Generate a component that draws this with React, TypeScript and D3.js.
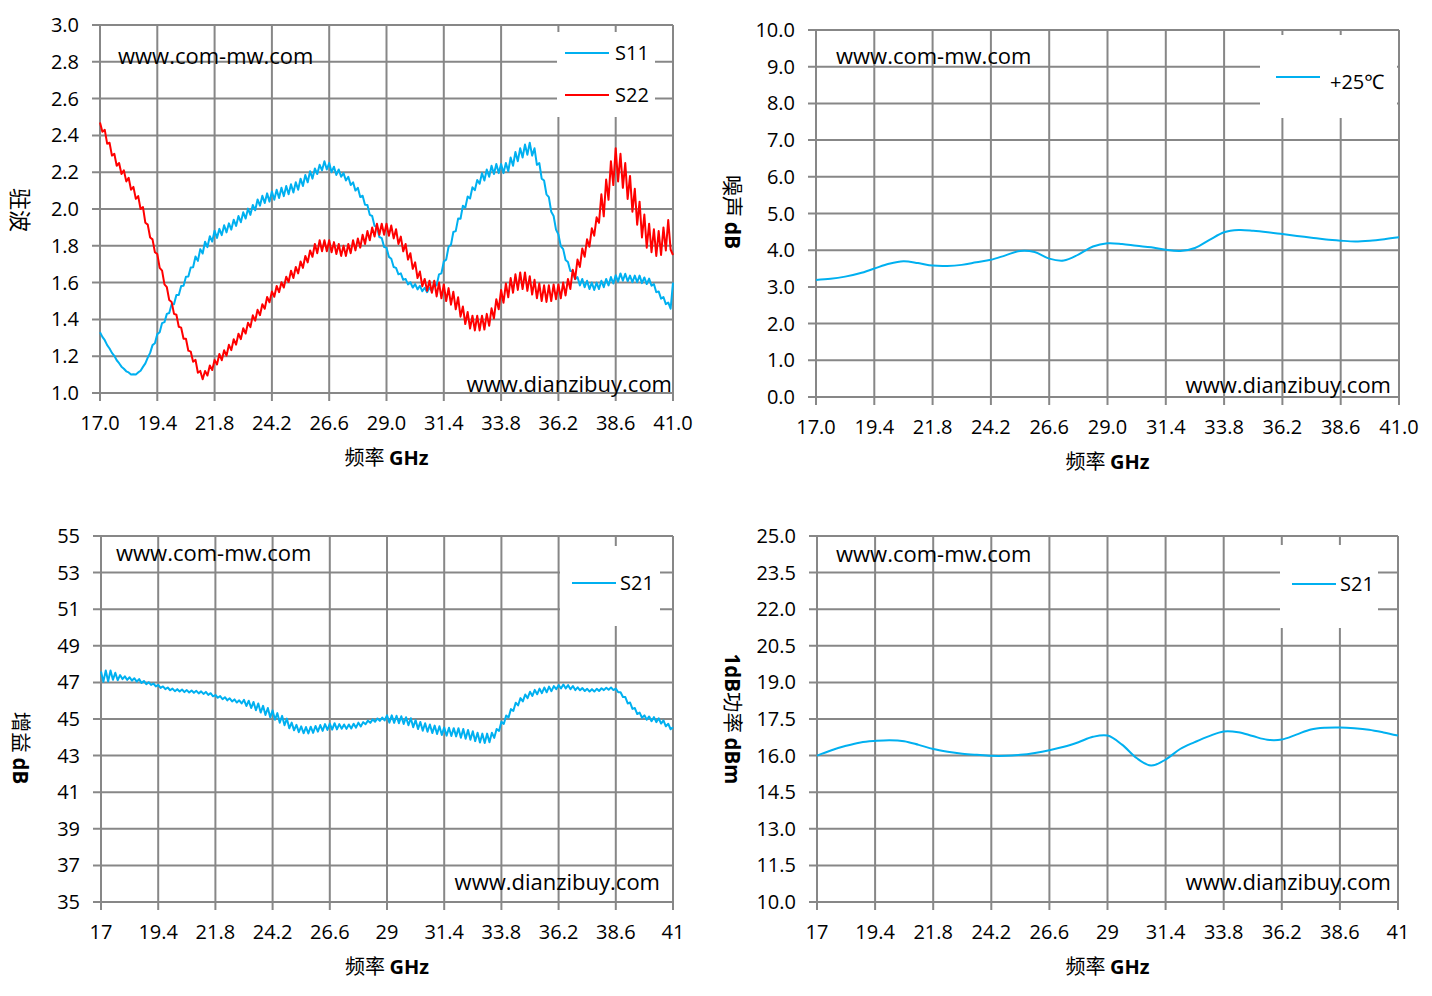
import * as d3 from "d3";

const FONT = "'Open Sans', 'Noto Sans', sans-serif";
const CJK = "'Noto Sans CJK SC', sans-serif";
const GRID = "#878787";
const BLUE = "#00B0F0";
const RED = "#FF0000";

// sweep points
const FREQ_FINE = d3.range(241).map((i) => +(17 + i * 0.1).toFixed(1));
const FREQ_COARSE = d3.range(41).map((i) => +(17 + i * 0.6).toFixed(1));

const X_TICKS = [17, 19.4, 21.8, 24.2, 26.6, 29, 31.4, 33.8, 36.2, 38.6, 41];
const X_LABELS_TOP = ["17.0", "19.4", "21.8", "24.2", "26.6", "29.0", "31.4", "33.8", "36.2", "38.6", "41.0"];
const X_LABELS_BOTTOM = ["17", "19.4", "21.8", "24.2", "26.6", "29", "31.4", "33.8", "36.2", "38.6", "41"];

const VSWR_TICKS = [1.0, 1.2, 1.4, 1.6, 1.8, 2.0, 2.2, 2.4, 2.6, 2.8, 3.0];
const NF_TICKS = [0, 1, 2, 3, 4, 5, 6, 7, 8, 9, 10];
const GAIN_TICKS = [35, 37, 39, 41, 43, 45, 47, 49, 51, 53, 55];
const P1DB_TICKS = [10, 11.5, 13, 14.5, 16, 17.5, 19, 20.5, 22, 23.5, 25];

// S11 VSWR, 0.1 GHz steps (one row per GHz)
const S11 = [
  1.33, 1.305, 1.287, 1.26, 1.242, 1.218, 1.202, 1.178, 1.162, 1.143,
  1.132, 1.118, 1.112, 1.101, 1.102, 1.101, 1.112, 1.121, 1.142, 1.161,
  1.192, 1.218, 1.26, 1.27, 1.32, 1.33, 1.38, 1.385, 1.43, 1.435,
  1.482, 1.483, 1.532, 1.533, 1.582, 1.583, 1.632, 1.633, 1.682, 1.683,
  1.742, 1.718, 1.782, 1.758, 1.822, 1.793, 1.852, 1.823, 1.882, 1.843,
  1.892, 1.858, 1.912, 1.873, 1.922, 1.888, 1.942, 1.908, 1.962, 1.928,
  1.982, 1.948, 2.002, 1.968, 2.022, 1.993, 2.052, 2.018, 2.072, 2.033,
  2.085, 2.04, 2.095, 2.05, 2.105, 2.06, 2.115, 2.07, 2.125, 2.08,
  2.135, 2.09, 2.145, 2.105, 2.165, 2.125, 2.185, 2.145, 2.205, 2.165,
  2.22, 2.19, 2.24, 2.21, 2.26, 2.215, 2.25, 2.2, 2.23, 2.185,
  2.215, 2.175, 2.195, 2.155, 2.175, 2.13, 2.145, 2.1, 2.115, 2.065,
  2.072, 2.023, 2.022, 1.968, 1.962, 1.908, 1.902, 1.848, 1.842, 1.793,
  1.79, 1.74, 1.73, 1.685, 1.68, 1.645, 1.65, 1.615, 1.62, 1.59,
  1.602, 1.573, 1.592, 1.563, 1.582, 1.553, 1.572, 1.548, 1.572, 1.553,
  1.595, 1.585, 1.645, 1.65, 1.715, 1.725, 1.795, 1.805, 1.875, 1.88,
  1.948, 1.947, 2.018, 2.007, 2.068, 2.057, 2.118, 2.102, 2.158, 2.137,
  2.195, 2.155, 2.215, 2.175, 2.235, 2.19, 2.245, 2.195, 2.245, 2.195,
  2.25, 2.205, 2.28, 2.235, 2.31, 2.26, 2.33, 2.28, 2.35, 2.295,
  2.36, 2.29, 2.33, 2.24, 2.25, 2.165, 2.155, 2.08, 2.065, 1.985,
  1.962, 1.888, 1.862, 1.798, 1.782, 1.723, 1.712, 1.663, 1.662, 1.618,
  1.63, 1.585, 1.62, 1.575, 1.61, 1.565, 1.6, 1.56, 1.6, 1.565,
  1.61, 1.575, 1.62, 1.585, 1.63, 1.595, 1.64, 1.605, 1.65, 1.61,
  1.648, 1.607, 1.638, 1.602, 1.638, 1.602, 1.638, 1.597, 1.628, 1.592,
  1.622, 1.583, 1.592, 1.548, 1.552, 1.513, 1.522, 1.483, 1.492, 1.458,
  1.6,
];

// S22 VSWR, 0.1 GHz steps
const S22 = [
  2.47, 2.42, 2.43, 2.355, 2.36, 2.29, 2.3, 2.235, 2.25, 2.19,
  2.21, 2.15, 2.17, 2.105, 2.12, 2.055, 2.07, 2.0, 2.01, 1.925,
  1.915, 1.845, 1.835, 1.765, 1.755, 1.68, 1.665, 1.59, 1.575, 1.505,
  1.495, 1.43, 1.425, 1.36, 1.355, 1.295, 1.295, 1.23, 1.225, 1.17,
  1.18, 1.11, 1.12, 1.075, 1.12, 1.095, 1.15, 1.125, 1.18, 1.155,
  1.212, 1.178, 1.232, 1.203, 1.262, 1.233, 1.292, 1.263, 1.322, 1.293,
  1.352, 1.323, 1.382, 1.358, 1.422, 1.393, 1.452, 1.423, 1.482, 1.458,
  1.522, 1.493, 1.552, 1.523, 1.582, 1.548, 1.602, 1.573, 1.632, 1.603,
  1.665, 1.625, 1.685, 1.65, 1.715, 1.68, 1.745, 1.71, 1.775, 1.74,
  1.81, 1.76, 1.83, 1.77, 1.83, 1.77, 1.83, 1.765, 1.82, 1.755,
  1.81, 1.745, 1.8, 1.745, 1.81, 1.76, 1.83, 1.775, 1.84, 1.79,
  1.86, 1.81, 1.88, 1.83, 1.9, 1.85, 1.92, 1.86, 1.92, 1.86,
  1.92, 1.855, 1.91, 1.84, 1.89, 1.81, 1.85, 1.77, 1.81, 1.725,
  1.76, 1.675, 1.71, 1.625, 1.66, 1.58, 1.62, 1.555, 1.61, 1.545,
  1.61, 1.525, 1.6, 1.515, 1.59, 1.5, 1.57, 1.48, 1.55, 1.455,
  1.52, 1.415, 1.47, 1.375, 1.44, 1.35, 1.42, 1.34, 1.42, 1.34,
  1.42, 1.345, 1.43, 1.365, 1.46, 1.405, 1.51, 1.455, 1.56, 1.49,
  1.595, 1.52, 1.625, 1.545, 1.645, 1.56, 1.655, 1.565, 1.655, 1.555,
  1.635, 1.535, 1.615, 1.515, 1.595, 1.5, 1.585, 1.495, 1.585, 1.5,
  1.59, 1.51, 1.59, 1.515, 1.6, 1.53, 1.62, 1.565, 1.67, 1.62,
  1.725, 1.685, 1.785, 1.74, 1.835, 1.795, 1.895, 1.855, 1.955, 1.925,
  2.08, 1.96, 2.16, 2.05, 2.26, 2.13, 2.33, 2.15, 2.3, 2.115,
  2.25, 2.055, 2.18, 1.985, 2.11, 1.915, 2.04, 1.845, 1.97, 1.79,
  1.92, 1.765, 1.89, 1.745, 1.88, 1.75, 1.9, 1.775, 1.94, 1.78,
  1.75,
];

// noise figure dB, 0.6 GHz steps
const NF = [
  3.19, 3.22, 3.28, 3.37, 3.5, 3.63, 3.7, 3.65, 3.58, 3.57,
  3.6, 3.67, 3.74, 3.86, 3.98, 3.95, 3.77, 3.72, 3.88, 4.1,
  4.19, 4.17, 4.12, 4.08, 4.01, 3.98, 4.06, 4.28, 4.49, 4.55,
  4.53, 4.49, 4.44, 4.39, 4.34, 4.29, 4.26, 4.24, 4.26, 4.3,
  4.35,
];

// gain S21 dB, 0.1 GHz steps
const S21 = [
  47.6, 47.03, 47.65, 47.05, 47.65, 47.14, 47.53, 47.12, 47.4, 47.18,
  47.33, 47.14, 47.28, 47.1, 47.23, 47.04, 47.18, 46.97, 47.08, 46.9,
  47.01, 46.86, 46.94, 46.78, 46.86, 46.7, 46.78, 46.63, 46.72, 46.57,
  46.66, 46.52, 46.63, 46.5, 46.61, 46.47, 46.58, 46.45, 46.56, 46.43,
  46.54, 46.4, 46.51, 46.37, 46.48, 46.32, 46.41, 46.24, 46.31, 46.16,
  46.25, 46.08, 46.19, 46.02, 46.13, 45.96, 46.07, 45.9, 46.02, 45.85,
  46.05, 45.71, 46.0, 45.6, 45.93, 45.48, 45.85, 45.35, 45.72, 45.22,
  45.6, 45.09, 45.47, 44.96, 45.32, 44.8, 45.17, 44.66, 45.02, 44.49,
  44.8, 44.38, 44.68, 44.28, 44.6, 44.22, 44.56, 44.21, 44.58, 44.24,
  44.62, 44.31, 44.67, 44.35, 44.72, 44.4, 44.75, 44.42, 44.77, 44.43,
  44.72, 44.47, 44.7, 44.46, 44.7, 44.48, 44.74, 44.53, 44.8, 44.59,
  44.83, 44.71, 44.91, 44.79, 44.98, 44.85, 45.03, 44.9, 45.08, 44.92,
  45.2, 44.8, 45.2, 44.79, 45.18, 44.77, 45.15, 44.73, 45.1, 44.66,
  45.04, 44.55, 44.94, 44.45, 44.84, 44.36, 44.77, 44.3, 44.7, 44.23,
  44.64, 44.18, 44.6, 44.13, 44.54, 44.09, 44.52, 44.07, 44.5, 44.05,
  44.5, 43.97, 44.45, 43.92, 44.4, 43.87, 44.33, 43.79, 44.25, 43.72,
  44.2, 43.69, 44.2, 43.73, 44.25, 43.97, 44.45, 44.35, 44.85, 44.73,
  45.19, 45.08, 45.54, 45.44, 45.89, 45.74, 46.14, 45.96, 46.34, 46.14,
  46.49, 46.26, 46.59, 46.35, 46.66, 46.41, 46.72, 46.46, 46.77, 46.52,
  46.8, 46.63, 46.85, 46.67, 46.88, 46.67, 46.85, 46.63, 46.8, 46.58,
  46.73, 46.57, 46.69, 46.53, 46.65, 46.5, 46.63, 46.5, 46.65, 46.53,
  46.68, 46.58, 46.71, 46.6, 46.72, 46.58, 46.66, 46.46, 46.46, 46.2,
  46.2, 45.85, 45.9, 45.55, 45.6, 45.27, 45.35, 45.07, 45.2, 44.96,
  45.14, 44.88, 45.1, 44.83, 45.04, 44.75, 44.92, 44.6, 44.74, 44.44,
  44.55,
];

// P1dB dBm, 0.6 GHz steps
const P1DB = [
  16.0, 16.22, 16.4, 16.54, 16.6, 16.63, 16.59, 16.44, 16.27, 16.16,
  16.08, 16.03, 15.99, 15.99, 16.03, 16.11, 16.22, 16.36, 16.55, 16.77,
  16.82, 16.45, 15.9, 15.59, 15.84, 16.27, 16.55, 16.8, 16.99, 16.96,
  16.8, 16.65, 16.66, 16.86, 17.07, 17.14, 17.15, 17.12, 17.06, 16.95,
  16.82,
];

interface Series {
  name: string;
  color: string;
  freq: number[];
  values: number[];
  smooth?: boolean;
}

interface PanelProps {
  box: { left: number; right: number; top: number; bottom: number };
  yTicks: number[];
  yFormat: (v: number) => string;
  xLabels: string[];
  series: Series[];
  yTitle: { x: number; y: number; cjk: string; latin?: string; prefix?: string; size: number };
  xTitleY: number;
  watermark: { x: number; y: number; right: number; bottom: number };
  legend: { x: number; y: number; w: number; h: number; rows: number[]; lineX: number; textGap: number; textDy?: number };
}

function Panel({ box, yTicks, yFormat, xLabels, series, yTitle, xTitleY, watermark, legend }: PanelProps) {
  const x = d3.scaleLinear().domain([17, 41]).range([box.left, box.right]);
  const y = d3.scaleLinear().domain([yTicks[0], yTicks[yTicks.length - 1]]).range([box.bottom, box.top]);
  const mid = (box.left + box.right) / 2;

  return (
    <g>
      {/* grid + ticks */}
      {yTicks.map((t) => (
        <g key={"y" + t}>
          <line x1={box.left - 8} x2={box.right} y1={y(t)} y2={y(t)} stroke={GRID} strokeWidth={2} />
          <text x={box.left - 21} y={y(t)} dy="0.35em" textAnchor="end" fontFamily={FONT} fontSize={20} fill="#000">
            {yFormat(t)}
          </text>
        </g>
      ))}
      {X_TICKS.map((t, i) => (
        <g key={"x" + t}>
          <line x1={x(t)} x2={x(t)} y1={box.top} y2={box.bottom + 8} stroke={GRID} strokeWidth={2} />
          <text x={x(t)} y={box.bottom + 37} textAnchor="middle" fontFamily={FONT} fontSize={20} fill="#000">
            {xLabels[i]}
          </text>
        </g>
      ))}

      {/* data */}
      {series.map((s) => {
        const line = d3
          .line<number>()
          .x((_, i) => x(s.freq[i]))
          .y((v) => y(v))
          .curve(s.smooth ? d3.curveCatmullRom : d3.curveLinear);
        return (
          <path key={s.name} d={line(s.values) ?? ""} fill="none" stroke={s.color} strokeWidth={2} strokeLinejoin="round" />
        );
      })}

      {/* legend */}
      <rect x={legend.x} y={legend.y} width={legend.w} height={legend.h} fill="#fff" />
      {series.map((s, i) => (
        <g key={"lg" + s.name}>
          <line x1={legend.lineX} x2={legend.lineX + 44} y1={legend.rows[i]} y2={legend.rows[i]} stroke={s.color} strokeWidth={2} />
          <text
            x={legend.lineX + legend.textGap}
            y={legend.rows[i] + (legend.textDy ?? 0)}
            dy="0.35em"
            fontFamily={FONT}
            fontSize={20}
            fill="#000"
          >
            {s.name}
          </text>
        </g>
      ))}

      {/* watermarks */}
      <text x={watermark.x} y={watermark.y} fontFamily={FONT} fontSize={22} fill="#000">
        www.com-mw.com
      </text>
      <text x={watermark.right} y={watermark.bottom} textAnchor="end" fontFamily={FONT} fontSize={22} fill="#000">
        www.dianzibuy.com
      </text>

      {/* axis titles */}
      <text x={mid} y={xTitleY} textAnchor="middle" fontSize={20} fill="#000">
        <tspan fontFamily={CJK}>频率 </tspan>
        <tspan fontFamily={FONT} fontWeight="bold">GHz</tspan>
      </text>
      <text
        transform={`translate(${yTitle.x},${yTitle.y}) rotate(90)`}
        textAnchor="middle"
        dy="0.35em"
        fontSize={yTitle.size}
        fill="#000"
      >
        {yTitle.prefix && (
          <tspan fontFamily={FONT} fontWeight="bold">{yTitle.prefix}</tspan>
        )}
        <tspan fontFamily={CJK}>{yTitle.cjk}</tspan>
        {yTitle.latin && (
          <tspan fontFamily={FONT} fontWeight="bold">{yTitle.latin}</tspan>
        )}
      </text>
    </g>
  );
}

export default function App() {
  return (
    <svg width={1432} height={996} style={{ position: "absolute", left: 0, top: 0, background: "#fff" }}>
      <Panel
        box={{ left: 100, right: 673, top: 25, bottom: 393 }}
        yTicks={VSWR_TICKS}
        yFormat={d3.format(".1f")}
        xLabels={X_LABELS_TOP}
        series={[
          { name: "S11", color: BLUE, freq: FREQ_FINE, values: S11 },
          { name: "S22", color: RED, freq: FREQ_FINE, values: S22 },
        ]}
        yTitle={{ x: 20, y: 210, cjk: "驻波", size: 22 }}
        xTitleY={465}
        watermark={{ x: 118, y: 64, right: 672, bottom: 392 }}
        legend={{ x: 557, y: 32, w: 98, h: 85, rows: [53, 95], lineX: 565, textGap: 50 }}
      />
      <Panel
        box={{ left: 816, right: 1399, top: 30, bottom: 397 }}
        yTicks={NF_TICKS}
        yFormat={d3.format(".1f")}
        xLabels={X_LABELS_TOP}
        series={[{ name: "+25℃", color: BLUE, freq: FREQ_COARSE, values: NF, smooth: true }]}
        yTitle={{ x: 732, y: 212, cjk: "噪声 ", latin: "dB", size: 21 }}
        xTitleY={469}
        watermark={{ x: 836, y: 64, right: 1391, bottom: 393 }}
        legend={{ x: 1260, y: 35, w: 137, h: 83, rows: [77], lineX: 1276, textGap: 54, textDy: 5 }}
      />
      <Panel
        box={{ left: 101, right: 673, top: 536, bottom: 902 }}
        yTicks={GAIN_TICKS}
        yFormat={d3.format("d")}
        xLabels={X_LABELS_BOTTOM}
        series={[{ name: "S21", color: BLUE, freq: FREQ_FINE, values: S21 }]}
        yTitle={{ x: 20, y: 748, cjk: "增益 ", latin: "dB", size: 20.5 }}
        xTitleY={974}
        watermark={{ x: 116, y: 561, right: 660, bottom: 890 }}
        legend={{ x: 560, y: 546, w: 100, h: 80, rows: [583], lineX: 572, textGap: 48 }}
      />
      <Panel
        box={{ left: 817, right: 1398, top: 536, bottom: 902 }}
        yTicks={P1DB_TICKS}
        yFormat={d3.format(".1f")}
        xLabels={X_LABELS_BOTTOM}
        series={[{ name: "S21", color: BLUE, freq: FREQ_COARSE, values: P1DB, smooth: true }]}
        yTitle={{ x: 732, y: 719, prefix: "1dB", cjk: "功率 ", latin: "dBm", size: 20.5 }}
        xTitleY={974}
        watermark={{ x: 836, y: 562, right: 1391, bottom: 890 }}
        legend={{ x: 1280, y: 545, w: 98, h: 83, rows: [584], lineX: 1292, textGap: 48 }}
      />
    </svg>
  );
}
